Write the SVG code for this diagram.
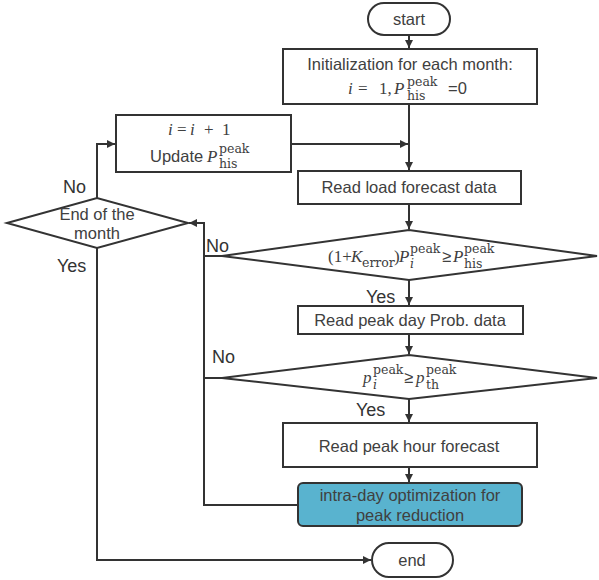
<svg xmlns="http://www.w3.org/2000/svg" width="599" height="580" viewBox="0 0 599 580">
<style>
.box{fill:#fff;stroke:#333;stroke-width:2}
.blue{fill:#59b3cf;stroke:#333;stroke-width:2}
.ln{fill:none;stroke:#333;stroke-width:2}
.t{font-family:"Liberation Sans",Arial,sans-serif;font-size:16.5px;fill:#404040;text-anchor:middle}
.ts{font-family:"Liberation Sans",Arial,sans-serif;font-size:16.5px;fill:#404040}
.lab{font-family:"Liberation Sans",Arial,sans-serif;font-size:18px;fill:#333}
.m{font-family:"Liberation Serif","Times New Roman",serif;font-size:17px;fill:#404040}
.mi{font-family:"Liberation Serif","Times New Roman",serif;font-size:17px;font-style:italic;fill:#404040}
.s{font-family:"DejaVu Serif","Liberation Serif",serif;font-size:12.5px;fill:#404040}
.si{font-family:"DejaVu Serif","Liberation Serif",serif;font-size:12.5px;font-style:italic;fill:#404040}
</style>
<defs>
<marker id="ar" markerUnits="userSpaceOnUse" markerWidth="9" markerHeight="9" refX="8" refY="4" orient="auto">
<path d="M0,0 L8,4 L0,8 z" fill="#333"/>
</marker>
</defs>
<g id="connectors">
<path class="ln" d="M409,35 V48" marker-end="url(#ar)"/>
<path class="ln" d="M409,104 V170" marker-end="url(#ar)"/>
<path class="ln" d="M291,144 H408" marker-end="url(#ar)"/>
<path class="ln" d="M409,204 V229" marker-end="url(#ar)"/>
<path class="ln" d="M409,280 V305" marker-end="url(#ar)"/>
<path class="ln" d="M409,334 V354" marker-end="url(#ar)"/>
<path class="ln" d="M409,399 V422" marker-end="url(#ar)"/>
<path class="ln" d="M409,467 V482" marker-end="url(#ar)"/>
<path class="ln" d="M298,505 H204 V223 H189" marker-end="url(#ar)"/>
<path class="ln" d="M222,256 H204"/>
<path class="ln" d="M222,378 H204"/>
<path class="ln" d="M97,198 V144 H115" marker-end="url(#ar)"/>
<path class="ln" d="M97,248 V560 H371" marker-end="url(#ar)"/>
</g>
<g id="start">
<rect class="box" x="368" y="3" width="82" height="32" rx="16"/>
<text class="t" x="409" y="25">start</text>
</g>
<g id="init">
<rect class="box" x="283" y="49" width="254" height="55"/>
<text class="t" x="410" y="70">Initialization for each month:</text>
<text class="mi" x="348" y="94">i</text>
<text class="m" x="358" y="94">=</text>
<text class="m" x="379" y="94">1,</text>
<text class="mi" x="394" y="94">P</text>
<text class="s" x="407" y="86">peak</text>
<text class="s" x="407" y="100">his</text>
<text class="ts" x="448" y="94">=0</text>
</g>
<g id="update">
<rect class="box" x="116" y="115" width="175" height="57"/>
<text class="mi" x="168" y="135">i</text>
<text class="m" x="177" y="135">=</text>
<text class="mi" x="190" y="135">i</text>
<text class="m" x="204" y="135">+</text>
<text class="m" x="222" y="135">1</text>
<text class="ts" x="150" y="162">Update</text>
<text class="mi" x="207" y="162">P</text>
<text class="s" x="219" y="153">peak</text>
<text class="s" x="219" y="168">his</text>
</g>
<g id="readload">
<rect class="box" x="298" y="171" width="223" height="33"/>
<text class="t" x="409" y="193">Read load forecast data</text>
</g>
<g id="endmonth">
<polygon class="box" points="7,223 97,198 188,223 97,248"/>
<text class="t" x="97" y="220" font-size="15px">End of the</text>
<text class="t" x="97" y="239" font-size="15px">month</text>
</g>
<g id="cond1">
<polygon class="box" points="222,256 409,230 597,256 409,280"/>
<text class="m" x="328" y="262">(1+</text>
<text class="mi" x="351" y="262">K</text>
<text class="s" x="362" y="267">error</text>
<text class="m" x="394" y="262">)</text>
<text class="mi" x="399" y="262">P</text>
<text class="s" x="410" y="253">peak</text>
<text class="si" x="410" y="268">i</text>
<text class="ts" x="442" y="262">≥</text>
<text class="mi" x="453" y="262">P</text>
<text class="s" x="464" y="253">peak</text>
<text class="s" x="464" y="268">his</text>
</g>
<g id="readprob">
<rect class="box" x="298" y="306" width="225" height="28"/>
<text class="t" x="410" y="326">Read peak day Prob. data</text>
</g>
<g id="cond2">
<polygon class="box" points="222,378 409,355 597,378 409,399"/>
<text class="mi" x="363" y="383">p</text>
<text class="s" x="373" y="374">peak</text>
<text class="si" x="373" y="389">i</text>
<text class="ts" x="404" y="383">≥</text>
<text class="mi" x="416" y="383">p</text>
<text class="s" x="426" y="374">peak</text>
<text class="s" x="426" y="389">th</text>
</g>
<g id="readhour">
<rect class="box" x="283" y="423" width="254" height="44"/>
<text class="t" x="409" y="452">Read peak hour forecast</text>
</g>
<g id="optim">
<rect class="blue" x="298" y="483" width="224" height="43" rx="5"/>
<text class="t" x="410" y="501" fill="#333">intra-day optimization for</text>
<text class="t" x="410" y="521" fill="#333">peak reduction</text>
</g>
<g id="end">
<rect class="box" x="372" y="543" width="81" height="34" rx="17"/>
<text class="t" x="412" y="566">end</text>
</g>
<g id="labels">
<text class="lab" x="63" y="193">No</text>
<text class="lab" x="57" y="272">Yes</text>
<text class="lab" x="206" y="252">No</text>
<text class="lab" x="366" y="303">Yes</text>
<text class="lab" x="212" y="363">No</text>
<text class="lab" x="356" y="416">Yes</text>
</g>
</svg>
